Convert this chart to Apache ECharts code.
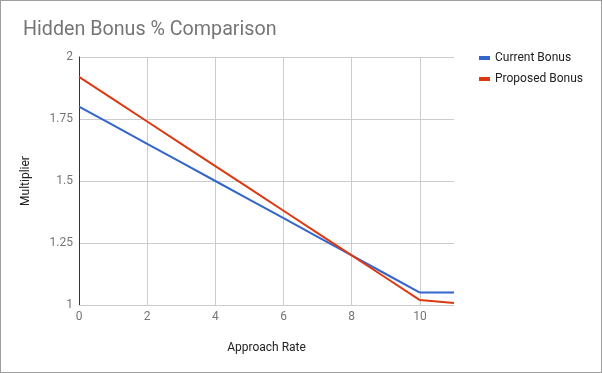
<!DOCTYPE html>
<html><head><meta charset="utf-8">
<script src="https://cdn.jsdelivr.net/npm/echarts@6/dist/echarts.min.js"></script>
<style>html,body{margin:0;padding:0;background:#fff}#c{width:600px;height:371px;border:1px solid #9e9e9e}</style>
</head><body><div id="c"></div>
<script>
var approachRate = [0,1,2,3,4,5,6,7,8,9,10,11];
var currentBonus = [1.8,1.725,1.65,1.575,1.5,1.425,1.35,1.275,1.2,1.125,1.05,1.05];
var proposedBonus = [1.92,1.83,1.74,1.65,1.56,1.47,1.38,1.29,1.2,1.11,1.02,1.008];
function pairs(xs, ys){ return xs.map(function(x,i){ return [x, ys[i]]; }); }
var chart = echarts.init(document.getElementById('c'));
var font = 'Roboto';
chart.setOption({
  animation:false,
  title:{text:'Hidden Bonus % Comparison', left:17, top:14, textStyle:{fontFamily:font, fontSize:19.7, fontWeight:'normal', color:'#757575'}},
  legend:{orient:'vertical', left:473, top:46, itemGap:9, icon:'rect', itemWidth:11, itemHeight:4,
    textStyle:{fontFamily:font, fontSize:12, color:'#222'}, data:['Current Bonus','Proposed Bonus']},
  grid:{left:78, right:147, top:56, bottom:67},
  xAxis:{type:'value', min:0, max:11, interval:2, name:'Approach Rate', nameLocation:'middle', nameGap:37,
    nameTextStyle:{fontFamily:font, fontSize:12, color:'#222'},
    axisLine:{show:true, lineStyle:{color:'#ccc'}}, axisTick:{show:false},
    axisLabel:{showMaxLabel:false, fontFamily:font, fontSize:12, color:'#757575', margin:6},
    splitLine:{show:true, lineStyle:{color:['#ccc','#ccc','#ccc','#ccc','#ccc','#ccc','rgba(0,0,0,0)']}}},
  yAxis:{type:'value', min:1, max:2, interval:0.25, name:'Multiplier', nameLocation:'middle', nameGap:47,
    nameTextStyle:{fontFamily:font, fontSize:12, color:'#222'},
    axisLine:{show:true, lineStyle:{color:'#333'}}, axisTick:{show:false},
    axisLabel:{fontFamily:font, fontSize:12, color:'#757575', margin:6},
    splitLine:{show:true, lineStyle:{color:'#ccc'}}},
  series:[
    {name:'Current Bonus', type:'line', data:pairs(approachRate,currentBonus), showSymbol:false, symbol:'none',
      lineStyle:{width:2, color:'#3366cc'}, itemStyle:{color:'#3366cc'}},
    {name:'Proposed Bonus', type:'line', data:pairs(approachRate,proposedBonus), showSymbol:false, symbol:'none',
      lineStyle:{width:2, color:'#dc3912'}, itemStyle:{color:'#dc3912'}}
  ]
});
</script></body></html>
